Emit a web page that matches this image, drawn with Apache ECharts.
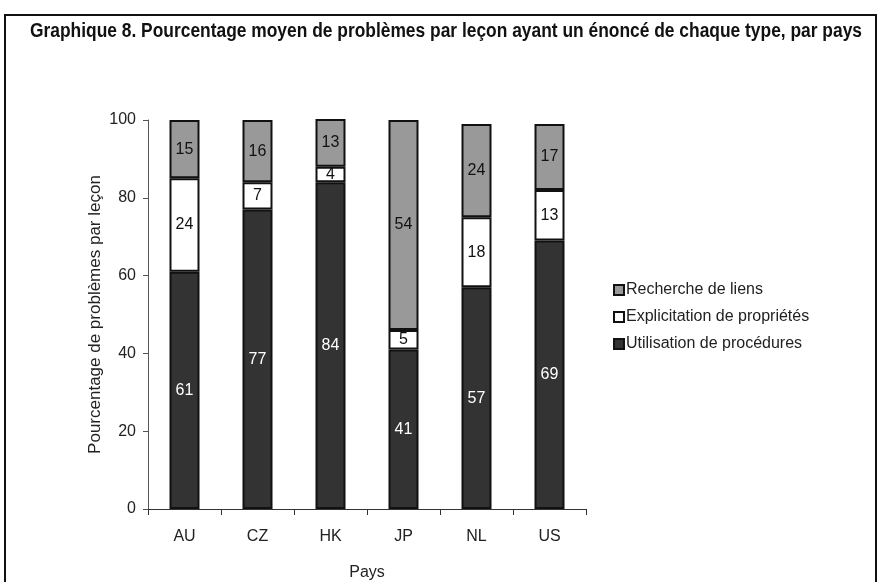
<!DOCTYPE html>
<html>
<head>
<meta charset="utf-8">
<script src="https://cdn.jsdelivr.net/npm/echarts@6/dist/echarts.min.js"></script>
<style>
  html, body { margin: 0; padding: 0; background: #fff; }
  #chart { width: 881px; height: 582px; }
</style>
</head>
<body>
<div id="chart"></div>
<script>
var countries = ['AU', 'CZ', 'HK', 'JP', 'NL', 'US']
var procedures = [61, 77, 84, 41, 57, 69]
var proprietes = [24, 7, 4, 5, 18, 13]
var liens = [15, 16, 13, 54, 24, 17]
var yTicks = [0, 20, 40, 60, 80, 100]

var font = 'Liberation Sans, Arial, sans-serif'
var titleText = 'Graphique 8. Pourcentage moyen de problèmes par leçon ayant un énoncé de chaque type, par pays'
var titleFont = 'bold 20px Liberation Sans, Arial, sans-serif'

// squeeze the title to the width it takes in the picture
var ctx = document.createElement('canvas').getContext('2d')
ctx.font = titleFont
var titleScale = 832 / ctx.measureText(titleText).width

var chart = echarts.init(document.getElementById('chart'))

function barSeries(name, data, color, textColor) {
  return {
    name: name,
    type: 'bar',
    stack: 'total',
    barWidth: 30,
    data: data,
    itemStyle: { color: color, borderColor: '#111', borderWidth: 2 },
    label: {
      show: true,
      position: 'inside',
      color: textColor,
      fontFamily: font,
      fontSize: 16
    }
  }
}

chart.setOption({
  animation: false,
  graphic: [{
    type: 'rect',
    shape: { x: 5, y: 15, width: 871, height: 570 },
    style: { fill: 'none', stroke: '#111', lineWidth: 2 }
  }, {
    type: 'text',
    x: 30,
    y: 21,
    scaleX: titleScale,
    style: { text: titleText, font: titleFont, fill: '#111' }
  }],
  legend: {
    orient: 'vertical',
    left: 608,
    top: 277,
    icon: 'rect',
    itemWidth: 10,
    itemHeight: 10,
    itemGap: 11,
    data: ['Recherche de liens', 'Explicitation de propriétés', 'Utilisation de procédures'],
    textStyle: { fontFamily: font, fontSize: 16, color: '#222', padding: [0, 0, 0, -3] }
  },
  grid: { left: 148, top: 120, width: 438, height: 389, outerBoundsMode: 'none' },
  xAxis: {
    type: 'category',
    data: countries,
    name: 'Pays',
    nameLocation: 'middle',
    nameGap: 56,
    nameTextStyle: { fontFamily: font, fontSize: 16, color: '#222' },
    axisLine: { lineStyle: { color: '#333', width: 1 } },
    axisTick: { show: true, length: 6, lineStyle: { color: '#333' } },
    axisLabel: { fontFamily: font, fontSize: 16, color: '#222', margin: 20 }
  },
  yAxis: {
    type: 'value',
    min: yTicks[0],
    max: yTicks[yTicks.length - 1],
    interval: 20,
    name: 'Pourcentage de problèmes par leçon',
    nameLocation: 'middle',
    nameGap: 44,
    nameTextStyle: { fontFamily: font, fontSize: 17, color: '#222' },
    axisLine: { show: true, lineStyle: { color: '#555', width: 1 } },
    axisTick: { show: true, inside: false, length: 5, lineStyle: { color: '#555' } },
    axisLabel: { fontFamily: font, fontSize: 16, color: '#222', margin: 12 },
    splitLine: { show: false }
  },
  series: [
    barSeries('Utilisation de procédures', procedures, '#333333', '#fff'),
    barSeries('Explicitation de propriétés', proprietes, '#ffffff', '#111'),
    barSeries('Recherche de liens', liens, '#999999', '#111')
  ]
})
</script>
</body>
</html>
